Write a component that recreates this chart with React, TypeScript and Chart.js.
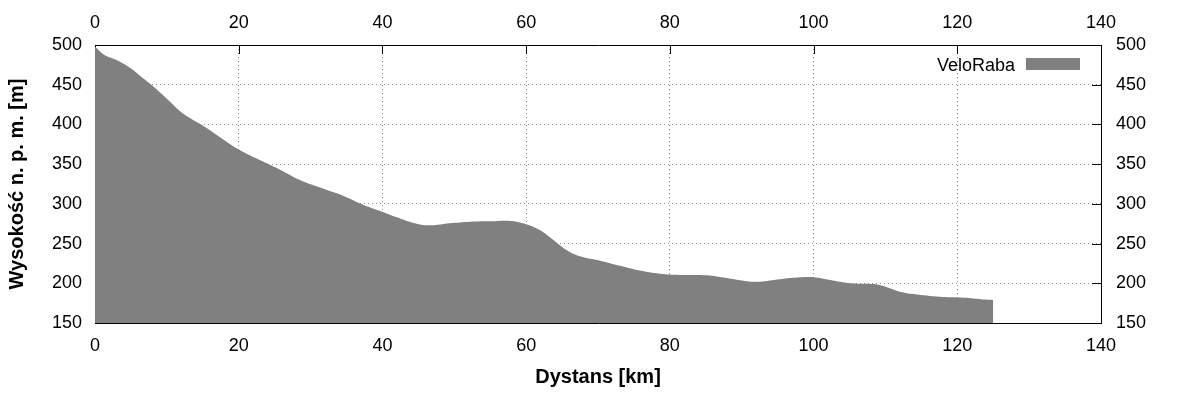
import React, { useEffect, useRef } from "react";
import { Chart, registerables } from "chart.js";

Chart.register(...registerables);

const distanceKm = [0, 1.2, 3, 4.9, 6.7, 8.6, 10.4, 11.8, 13.2, 15.1, 16.9, 19.7, 22.5, 25.3, 28.5, 31.8, 34.6, 37.3, 39.7, 42, 44.3, 46.6, 49.4, 52.2, 55, 57.8, 59.8, 61.9, 63.8, 65.6, 67.5, 70.3, 73.1, 75.8, 78.6, 81.4, 85.1, 87.9, 90.7, 92.5, 95.3, 98.1, 100, 102.3, 105.1, 108.3, 109.7, 112, 113.9, 117.6, 120.4, 122.2, 124, 125];
const elevationM = [498, 488, 481, 471, 458, 444, 429, 417, 408, 398, 387, 370, 357, 345, 330, 319, 310, 299, 291, 283, 276, 273, 275.5, 277.5, 278, 278.5, 275, 267, 254.5, 242, 234, 228.5, 222, 216, 212, 210.5, 210, 206.5, 202.5, 202, 205, 207.5, 207.5, 204, 200, 199, 196.5, 189.5, 186.5, 183, 182, 181, 179.5, 179];

const seriesName = "VeloRaba";
const xTitle = "Dystans [km]";
const yTitle = "Wysokość n. p. m. [m]";
const xMin = 0, xMax = 140, xStep = 20;
const yMin = 150, yMax = 500, yStep = 50;

const FONT = "'Liberation Sans', Arial, sans-serif";
const FILL = "#808080";

const innerTicks = {
  id: "innerTicks",
  beforeDatasetsDraw(chart: any) {
    const { ctx, chartArea } = chart;
    const xs = chart.scales.x;
    const ys = chart.scales.y;
    const L = 9;
    ctx.save();
    ctx.strokeStyle = "#000";
    ctx.lineWidth = 1;
    ctx.beginPath();
    xs.ticks.forEach((t: any) => {
      const px = Math.round(xs.getPixelForValue(t.value)) + 0.5;
      ctx.moveTo(px, chartArea.top);
      ctx.lineTo(px, chartArea.top + L);
      ctx.moveTo(px, chartArea.bottom);
      ctx.lineTo(px, chartArea.bottom - L);
    });
    ys.ticks.forEach((t: any) => {
      const py = Math.round(ys.getPixelForValue(t.value)) + 0.5;
      ctx.moveTo(chartArea.left, py);
      ctx.lineTo(chartArea.left + L, py);
      ctx.moveTo(chartArea.right, py);
      ctx.lineTo(chartArea.right - L, py);
    });
    ctx.stroke();
    ctx.restore();
  },
};

const keyPlugin = {
  id: "keyPlugin",
  afterDraw(chart: any) {
    const { ctx, chartArea } = chart;
    ctx.save();
    ctx.font = `18px ${FONT}`;
    ctx.fillStyle = "#000";
    ctx.textAlign = "right";
    ctx.textBaseline = "alphabetic";
    ctx.fillText(seriesName, chartArea.right - 86, chartArea.top + 26);
    ctx.fillStyle = FILL;
    ctx.fillRect(chartArea.right - 75, chartArea.top + 13, 54, 12);
    ctx.restore();
  },
};

export default function App() {
  const ref = useRef<HTMLCanvasElement | null>(null);
  useEffect(() => {
    document.body.style.margin = "0";
    const canvas = ref.current!;
    Chart.defaults.font.family = FONT;
    Chart.defaults.color = "#000";
    const tickFont = { size: 18, family: FONT };
    const titleFont = { size: 20, weight: "bold" as const, family: FONT };
    const gridOpts = { color: "#909090", lineWidth: 1, drawTicks: false };
    const borderOpts = { display: true, color: "#000", width: 1, dash: [1, 3] };
    const chart = new Chart(canvas, {
      type: "line",
      data: {
        datasets: [
          {
            label: seriesName,
            data: distanceKm.map((d, i) => ({ x: d, y: elevationM[i] })),
            backgroundColor: FILL,
            borderColor: FILL,
            borderWidth: 0,
            pointRadius: 0,
            fill: "start",
            tension: 0.4,
          },
        ],
      },
      options: {
        animation: false,
        responsive: false,
        layout: { padding: 0 },
        plugins: { legend: { display: false }, tooltip: { enabled: false } },
        scales: {
          x: {
            type: "linear",
            position: "bottom",
            min: xMin,
            max: xMax,
            ticks: { stepSize: xStep, font: tickFont, padding: 12, maxRotation: 0 },
            grid: gridOpts,
            border: borderOpts,
            title: { display: true, text: xTitle, font: titleFont, padding: { top: 0, bottom: 4 } },
            afterFit: (s: any) => { s.height = 70; },
          },
          x2: {
            type: "linear",
            position: "top",
            min: xMin,
            max: xMax,
            ticks: { stepSize: xStep, font: tickFont, padding: 11, maxRotation: 0 },
            grid: { display: false, drawTicks: false },
            border: { display: true, color: "#000", width: 1 },
            afterFit: (s: any) => { s.height = 45; },
          },
          y: {
            type: "linear",
            position: "left",
            min: yMin,
            max: yMax,
            ticks: { stepSize: yStep, font: tickFont, padding: 13 },
            grid: gridOpts,
            border: borderOpts,
            title: { display: true, text: yTitle, font: titleFont, padding: { top: 5, bottom: 0 } },
            afterFit: (s: any) => { s.width = 95; },
          },
          y2: {
            type: "linear",
            position: "right",
            min: yMin,
            max: yMax,
            ticks: { stepSize: yStep, font: tickFont, padding: 15 },
            grid: { display: false, drawTicks: false },
            border: { display: true, color: "#000", width: 1 },
            afterFit: (s: any) => { s.width = 99; },
          },
        },
      },
      plugins: [innerTicks, keyPlugin],
    });
    return () => chart.destroy();
  }, []);
  return (
    <div style={{ position: "absolute", left: 0, top: 0, width: 1200, height: 393, background: "#fff" }}>
      <canvas ref={ref} width={1200} height={393} style={{ display: "block", width: 1200, height: 393 }} />
    </div>
  );
}
